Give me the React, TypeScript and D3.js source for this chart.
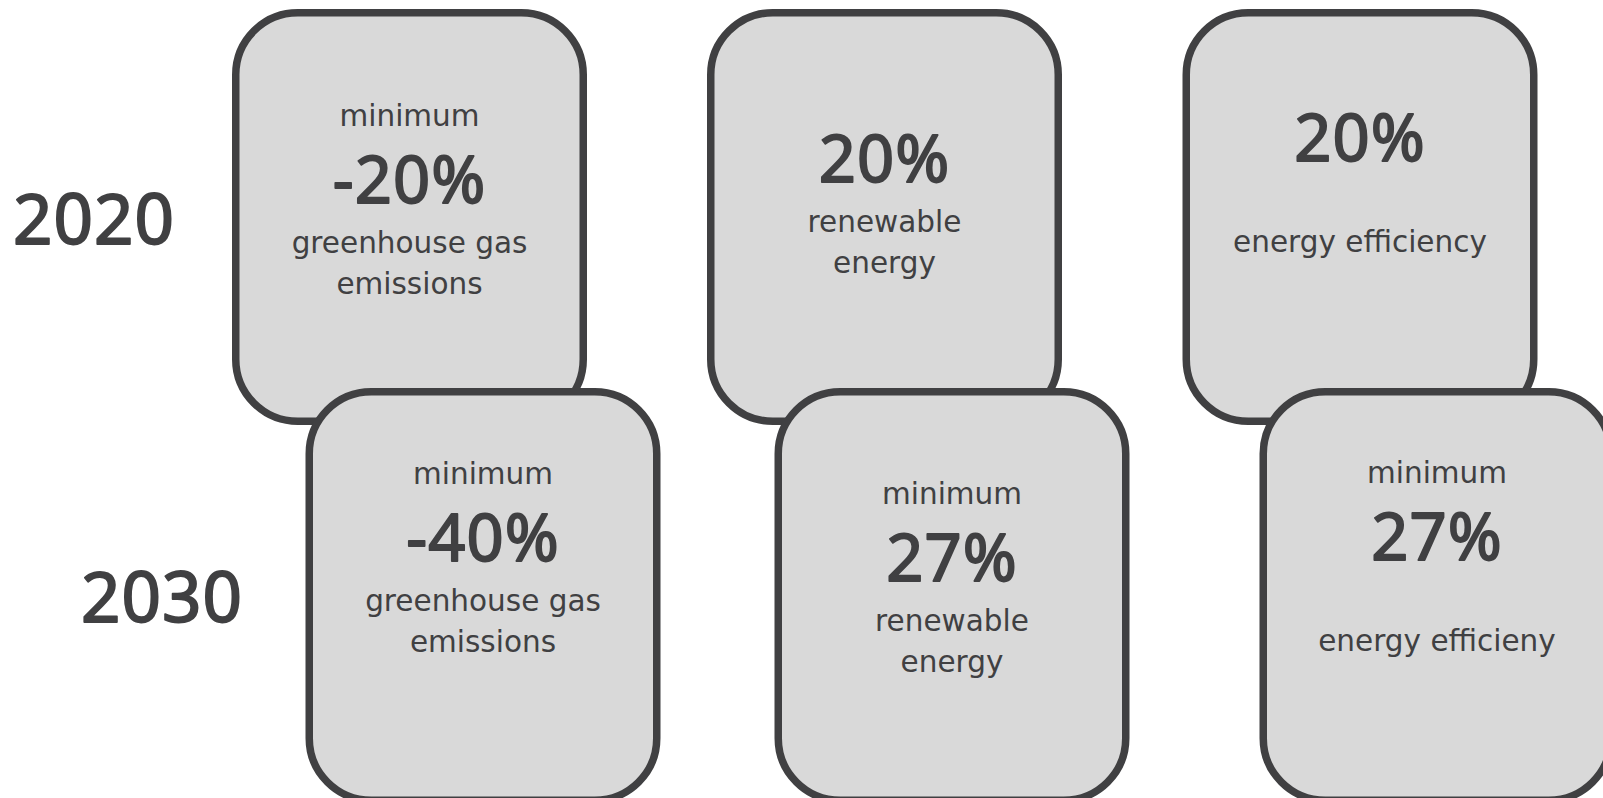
import React, { useEffect, useRef } from 'react';
import * as d3 from 'd3';

// targets per year, one entry per column (ghg, renewables, efficiency)
const years = ['2020', '2030'];
const qualifiers2020 = ['minimum', '', ''];
const values2020 = [-20, 20, 20];
const labels2020 = [['greenhouse gas', 'emissions'], ['renewable', 'energy'], ['', 'energy efficiency']];
const qualifiers2030 = ['minimum', 'minimum', 'minimum'];
const values2030 = [-40, 27, 27];
const labels2030 = [['greenhouse gas', 'emissions'], ['renewable', 'energy'], ['', 'energy efficieny']];

interface Card {
  row: number;
  col: number;
  qualifier: string;
  value: number;
  label: string[];
}

const App = () => {
  const svgRef = useRef<SVGSVGElement | null>(null);

  useEffect(() => {
    const width = 1603;
    const height = 798;
    const boxW = 355;
    const boxH = 416;
    const stroke = 7.5;
    const dark = '#404042';

    // layout of the cards (hand placed like the slide)
    const rowTop = d3.scaleOrdinal<number, number>().domain([0, 1]).range([9, 388]);
    const colCenter = [
      d3.scaleOrdinal<number, number>().domain([0, 1, 2]).range([409.5, 884.5, 1360]),
      d3.scaleOrdinal<number, number>().domain([0, 1, 2]).range([483, 952, 1437]),
    ];
    const firstLine = [[117, 96, 75], [96, 116, 95]];
    const yearX = d3.scaleOrdinal<string, number>().domain(years).range([94, 162]);
    const yearY = d3.scaleOrdinal<string, number>().domain(years).range([244, 622]);

    const cards: Card[] = [];
    [values2020, values2030].forEach((vals, row) => {
      const quals = row === 0 ? qualifiers2020 : qualifiers2030;
      const labs = row === 0 ? labels2020 : labels2030;
      vals.forEach((v, col) => cards.push({ row, col, qualifier: quals[col], value: v, label: labs[col] }));
    });

    const svg = d3.select(svgRef.current).attr('width', width).attr('height', height);
    svg.selectAll('*').remove();

    // regular weight + thin outline gives the semibold look of the slide
    const semibold = (sel: any, size: number) => sel
      .attr('text-anchor', 'middle')
      .attr('font-family', '"Noto Sans", sans-serif')
      .attr('font-size', size)
      .attr('letter-spacing', 1)
      .attr('fill', dark)
      .attr('stroke', dark)
      .attr('stroke-width', 1.8)
      .attr('stroke-linejoin', 'round');

    // year labels
    svg.selectAll('text.year')
      .data(years)
      .enter().append('text')
      .attr('class', 'year')
      .attr('x', d => yearX(d))
      .attr('y', d => yearY(d))
      .call(semibold, 69)
      .text(d => d);

    // top row first so the 2030 cards sit over it
    const card = svg.selectAll('g.card')
      .data(cards)
      .enter().append('g')
      .attr('class', 'card')
      .attr('transform', d => `translate(${colCenter[d.row](d.col) - boxW / 2},${rowTop(d.row)})`);

    card.append('rect')
      .attr('x', stroke / 2)
      .attr('y', stroke / 2)
      .attr('width', boxW - stroke)
      .attr('height', boxH - stroke)
      .attr('rx', 62)
      .attr('ry', 62)
      .attr('fill', '#d9d9d9')
      .attr('stroke', dark)
      .attr('stroke-width', stroke);

    const cx = boxW / 2;
    card.filter(d => d.qualifier !== '')
      .append('text')
      .attr('x', cx)
      .attr('y', d => firstLine[d.row][d.col])
      .attr('text-anchor', 'middle')
      .attr('font-family', '"DejaVu Sans", sans-serif')
      .attr('font-size', 29.5)
      .attr('fill', dark)
      .text(d => d.qualifier);

    card.append('text')
      .attr('x', cx)
      .attr('y', d => firstLine[d.row][d.col] + 77)
      .call(semibold, 65)
      .text(d => `${d.value}%`);

    card.each(function (d) {
      d3.select(this).selectAll('text.lab')
        .data(d.label)
        .enter().append('text')
        .attr('class', 'lab')
        .attr('x', cx)
        .attr('y', (_, i) => firstLine[d.row][d.col] + 127 + i * 41)
        .attr('text-anchor', 'middle')
        .attr('font-family', '"DejaVu Sans", sans-serif')
        .attr('font-size', 29.5)
        .attr('fill', dark)
        .text(t => t);
    });
  }, []);

  return (
    <div style={{ position: 'absolute', left: 0, top: 0, background: '#fff' }}>
      <svg ref={svgRef} style={{ display: 'block' }} />
    </div>
  );
};

export default App;
